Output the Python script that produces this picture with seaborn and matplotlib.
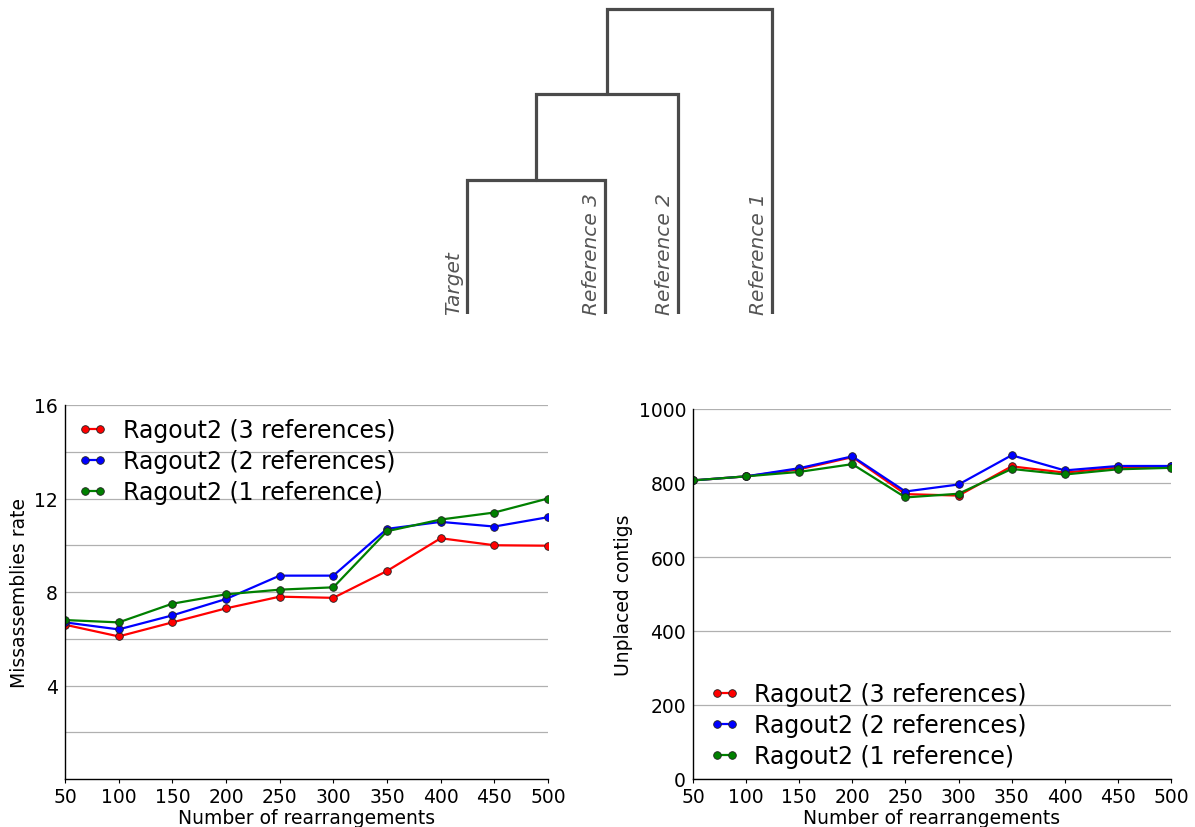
import matplotlib
matplotlib.use('Agg')
import matplotlib.pyplot as plt
import matplotlib.ticker as mticker
import pandas as pd
import seaborn as sns

# Data
rearrangements = [50, 100, 150, 200, 250, 300, 350, 400, 450, 500]
series_names = ['Ragout2 (3 references)', 'Ragout2 (2 references)', 'Ragout2 (1 reference)']

miss_3ref = [6.6, 6.1, 6.7, 7.3, 7.8, 7.75, 8.9, 10.3, 10.0, 9.98]
miss_2ref = [6.7, 6.4, 7.0, 7.7, 8.7, 8.7, 10.7, 11.0, 10.8, 11.2]
miss_1ref = [6.8, 6.7, 7.5, 7.9, 8.1, 8.2, 10.6, 11.1, 11.4, 12.0]

unplaced_3ref = [807, 818, 837, 870, 770, 766, 845, 828, 842, 845]
unplaced_2ref = [807, 818, 840, 872, 777, 796, 875, 834, 846, 846]
unplaced_1ref = [807, 818, 830, 851, 761, 771, 838, 823, 837, 841]

# tree: leaves (left to right), leaf positions, merge heights
leaf_names = ['Target', 'Reference 3', 'Reference 2', 'Reference 1']
leaf_pos = [0.67, 2.05, 2.78, 3.72]
merge_heights = [1.34, 2.20, 3.05]

colors = ['#ff0000', '#0000ff', '#008000']


def long_form(values):
    frames = []
    for name, vals in zip(series_names, values):
        frames.append(pd.DataFrame({'x': rearrangements, 'y': vals, 'series': name}))
    return pd.concat(frames, ignore_index=True)


df_miss = long_form([miss_3ref, miss_2ref, miss_1ref])
df_unpl = long_form([unplaced_3ref, unplaced_2ref, unplaced_1ref])

sns.set_style('white')
plt.rcParams['font.family'] = ['DejaVu Sans']
plt.rcParams['text.color'] = 'black'
plt.rcParams['axes.labelcolor'] = 'black'
plt.rcParams['xtick.color'] = 'black'
plt.rcParams['ytick.color'] = 'black'

fig = plt.figure(figsize=(11.95, 8.28), dpi=100)

# ---- dendrogram ----
ax_tree = fig.add_axes([400 / 1195, 1 - 315 / 828, 400 / 1195, 315 / 828])
tree_color = '#4a4a4a'
node_x = leaf_pos[0]
node_h = 0.0
for i, h in enumerate(merge_heights):
    right_x = leaf_pos[i + 1]
    ax_tree.plot([node_x, node_x, right_x, right_x], [node_h, h, h, 0.0],
                 color=tree_color, lw=2.3, solid_joinstyle='miter')
    node_x = (node_x + right_x) / 2
    node_h = h
for name, x in zip(leaf_names, leaf_pos):
    ax_tree.text(x - 0.04, 0.0, name, rotation=90, ha='right', va='bottom',
                 fontsize=14.5, style='italic', color='#555555')
ax_tree.set_xlim(0, 4)
ax_tree.set_ylim(0, 3.15)
ax_tree.axis('off')


def style_axes(ax):
    for side in ['top', 'right']:
        ax.spines[side].set_visible(False)
    for side in ['left', 'bottom']:
        ax.spines[side].set_color('black')
        ax.spines[side].set_linewidth(1.0)
    ax.yaxis.grid(True, which='both', color='#b0b0b0', lw=0.9)
    ax.xaxis.grid(False)
    ax.set_axisbelow(True)
    ax.tick_params(axis='x', which='major', length=3, direction='out', labelsize=13.5, pad=3, bottom=True)
    ax.tick_params(axis='y', which='both', length=0, labelsize=13.5, pad=5)
    ax.set_xticks(rearrangements)
    ax.set_xlim(50, 500)
    ax.set_xlabel('Number of rearrangements', fontsize=13.5, labelpad=1)


def draw_lines(ax, df):
    for name, color in zip(series_names, colors):
        sub = df[df['series'] == name]
        sns.lineplot(data=sub, x='x', y='y', ax=ax, color=color, lw=1.6,
                     marker='o', markersize=5.5, markeredgecolor='#202020',
                     markeredgewidth=0.6, label=name)


legend_kw = dict(frameon=False, fontsize=17, numpoints=2, handlelength=1.25,
                 handletextpad=0.65, labelspacing=0.3)

# ---- left: missassemblies ----
ax1 = fig.add_axes([65 / 1195, 48 / 828, 483 / 1195, 374 / 828])
draw_lines(ax1, df_miss)
style_axes(ax1)
ax1.set_ylim(0, 16)
ax1.yaxis.set_major_locator(mticker.FixedLocator([4, 8, 12, 16]))
ax1.yaxis.set_minor_locator(mticker.FixedLocator([2, 6, 10, 14]))
ax1.set_ylabel('Missassemblies rate', fontsize=13.5)
ax1.legend(loc='upper left', borderaxespad=0.15, **legend_kw)

# ---- right: unplaced contigs ----
ax2 = fig.add_axes([693 / 1195, 48 / 828, 478 / 1195, 370 / 828])
draw_lines(ax2, df_unpl)
style_axes(ax2)
ax2.set_ylim(0, 1000)
ax2.set_yticks([0, 200, 400, 600, 800, 1000])
ax2.set_ylabel('Unplaced contigs', fontsize=13.5)
ax2.legend(loc='lower left', bbox_to_anchor=(0.0, -0.015), borderaxespad=0.3, **legend_kw)

fig.savefig('out.png', dpi=100)
